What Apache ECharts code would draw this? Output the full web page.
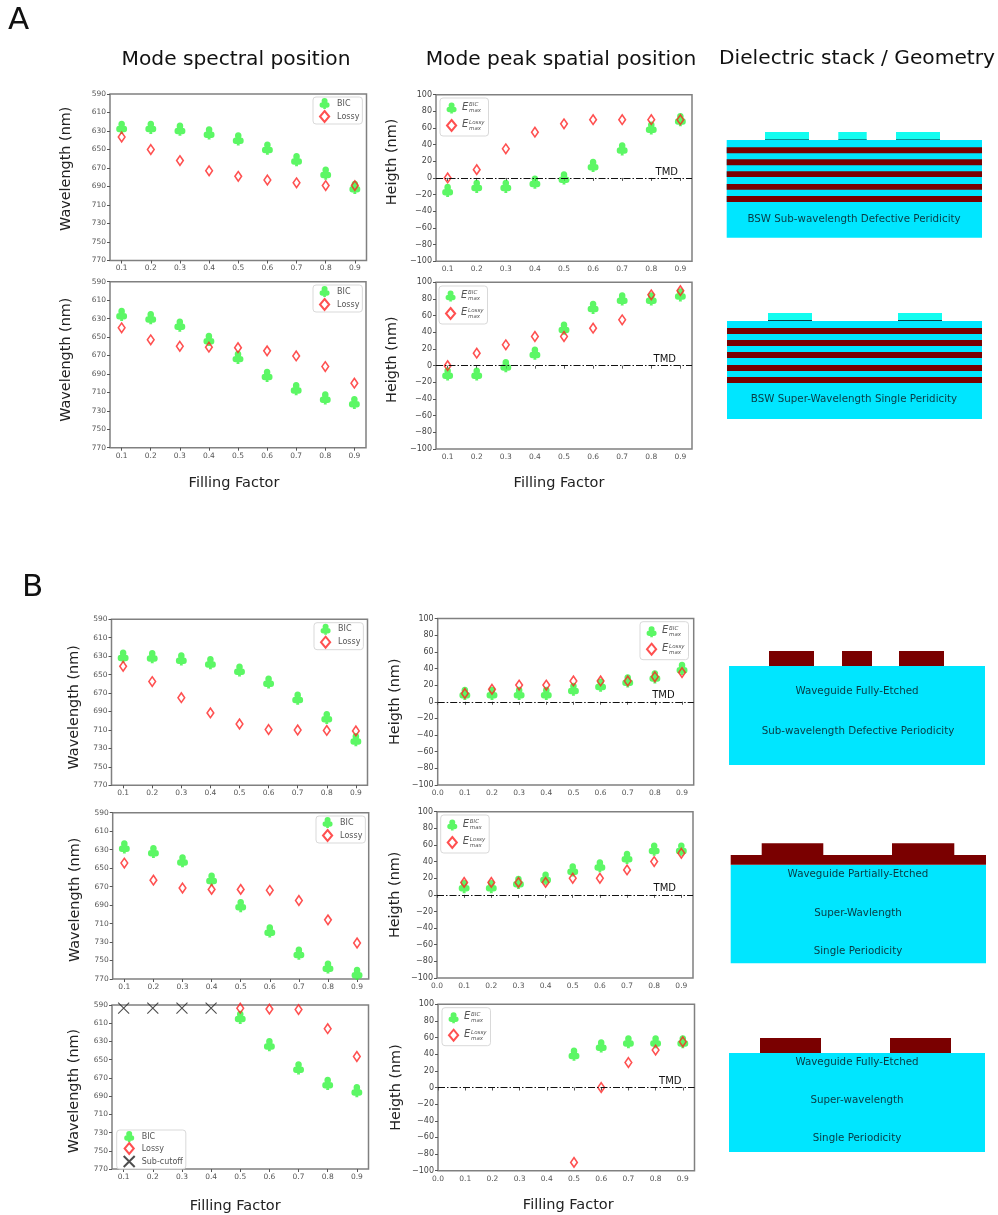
<!DOCTYPE html>
<html><head><meta charset="utf-8">
<style>html,body{margin:0;padding:0;background:#fff}#c{width:998px;height:1215px}</style>
<script src="https://cdn.jsdelivr.net/npm/echarts@6/dist/echarts.min.js"></script>
</head><body><div id="c"></div>
<script>
// ---------- data ----------
const fillingFactor = [0.1,0.2,0.3,0.4,0.5,0.6,0.7,0.8,0.9];
const wavelengthTicks = [590,610,630,650,670,690,710,730,750,770];
const xTicksShort = [0.1,0.2,0.3,0.4,0.5,0.6,0.7,0.8,0.9];
const xTicksLong = [0.0,0.1,0.2,0.3,0.4,0.5,0.6,0.7,0.8,0.9];

const a1WaveBIC = [626,626,628,632,638.5,648.5,661,675.5,691];
const a1WaveLossy = [636.5,650,662,673,679,683,686,689,689];
const a1HeightBIC = [-15,-10,-10,-5,0,15,35,60,70];
const a1HeightLossy = [0,10,35,55,65,70,70,70,70];

const a2WaveBIC = [625.5,629,637,652.5,672,691.5,706,716,721];
const a2WaveLossy = [640,653,660,661,661.5,665,670.5,682,700];
const a2HeightBIC = [-10,-10,0,15,45,70,80,80,85];
const a2HeightLossy = [0,15,25,35,35,45,55,85,90];

const b1WaveBIC = [630,630.5,633,637,645,658,675.5,696.5,720.5];
const b1WaveLossy = [641,657.5,675,691.5,703.5,709.5,710,710.5,711];
const b1HeightBIC = [10,10,10,10,15,20,25,30,40];
const b1HeightLossy = [10,15,20,20,25,25,25,30,35];

const b2WaveBIC = [627,632,642,662,690.5,718,742,757,764];
const b2WaveLossy = [644.5,663,671.5,673,673,674,685,706,731];
const b2HeightBIC = [10,10,15,20,30,35,45,55,55];
const b2HeightLossy = [15,15,15,15,20,20,30,40,50];

const b3WaveBIC = [null,null,null,null,603.5,633.5,659,676,684];
const b3WaveLossy = [null,null,null,null,593.5,594.5,595,616,646.5];
const b3WaveCutoff = [593.5,593.5,593.5,593.5,null,null,null,null,null];
const b3HeightBIC = [null,null,null,null,40,50,55,55,55];
const b3HeightLossy = [null,null,null,null,-90,0,30,45,55];

// ---------- styles ----------
const FONT = '"DejaVu Sans"';
const GREEN = '#33f53f', RED = '#ff2424';
const CLUB = 'path://M20 30a30 30 0 1 1 60 0a30 30 0 1 1 -60 0ZM0 70a27 27 0 1 1 54 0a27 27 0 1 1 -54 0ZM46 70a27 27 0 1 1 54 0a27 27 0 1 1 -54 0ZM36 36L64 36L64 72L58 72L64 110L36 110L42 72L36 72Z';
const DIAMOND = 'path://M5 0L10 6L5 12L0 6Z';
const CROSS = 'path://M0 0L10 10M10 0L0 10';

const rich = {
  e:{fontFamily:FONT,fontStyle:'italic',fontSize:10,lineHeight:6,verticalAlign:'top',color:'#555',width:7,align:'left'},
  s:{fontFamily:FONT,fontStyle:'italic',fontSize:5.5,lineHeight:6,verticalAlign:'middle',color:'#555'},
  g:{fontSize:5.5,lineHeight:6,width:7}
};
const legendText = {
  'BIC':'BIC','Lossy':'Lossy','Sub-cutoff':'Sub-cutoff',
  'E_max^BIC':'{e|E}{s|BIC}\n{g|}{s|max}',
  'E_max^Lossy':'{e|E}{s|Lossy}\n{g|}{s|max}'
};

const yL = 'Wavelength (nm)', yR = 'Heigth (nm)';
const panels = [
 {g:[110,94,256.5,166.5],name:yL,gap:36.5,yPad:[0,0,0,17],wave:true,bic:a1WaveBIC,loss:a1WaveLossy,leg:[313,97]},
 {g:[436,94.7,256,166.5],name:yR,gap:37,yPad:[0,0,0,32],bic:a1HeightBIC,loss:a1HeightLossy,leg:[440,98],tmd:[14,1]},
 {g:[110,281.7,256,166],name:yL,gap:36.5,yPad:[0,0,0,10],wave:true,bic:a2WaveBIC,loss:a2WaveLossy,leg:[313,285],xName:1,xGap:28,xPad:[0,8,0,0]},
 {g:[436,282.3,256,166.7],name:yR,gap:37,yPad:[0,0,0,12],bic:a2HeightBIC,loss:a2HeightLossy,leg:[439,286],tmd:[16,1],xName:1,xGap:27,xPad:[0,10,0,0]},
 {g:[111.5,619.3,256,166],name:yL,gap:30,yPad:[0,10,0,0],wave:true,bic:b1WaveBIC,loss:b1WaveLossy,leg:[314,622.7]},
 {g:[437.7,618.5,256,166.5],name:yR,gap:35,long:true,bic:b1HeightBIC,loss:b1HeightLossy,leg:[640,621.7],tmd:[19,1]},
 {g:[112.7,812.7,256,166.3],name:yL,gap:30,yPad:[0,8,0,0],wave:true,bic:b2WaveBIC,loss:b2WaveLossy,leg:[316,816]},
 {g:[437,811.7,256,166.3],name:yR,gap:35,long:true,bic:b2HeightBIC,loss:b2HeightLossy,leg:[440.7,815],tmd:[17,1]},
 {g:[112,1005,256.5,165.5],name:yL,gap:31,yPad:[0,8,0,0],wave:true,bic:b3WaveBIC,loss:b3WaveLossy,cut:b3WaveCutoff,leg:[116.7,1130],xName:1,xGap:30,xPad:[0,10,0,0]},
 {g:[438,1004.3,256.5,166.4],name:yR,gap:35,long:true,bic:b3HeightBIC,loss:b3HeightLossy,leg:[442,1007.7],tmd:[13,1],xName:1,xGap:27,xPad:[0,0,0,4]}
];

const pairs = arr => fillingFactor.map((x,i)=>[x,arr[i]]).filter(p=>p[1]!==null);
const fmtY = v => String(v).replace('-','\u2212');

const grid=[],xAxis=[],yAxis=[],series=[],legend=[];
panels.forEach((p,i)=>{
  grid.push({left:p.g[0],top:p.g[1],width:p.g[2],height:p.g[3],show:true,borderColor:'#808080',borderWidth:1.5,backgroundColor:'#fff'});
  const xt = p.long ? xTicksLong : xTicksShort;
  xAxis.push({type:'value',gridIndex:i,min:p.long?0:0.06,max:p.long?0.943:0.94,
    axisLine:{show:false},splitLine:{show:false},
    axisTick:{show:true,length:3,lineStyle:{color:'#555',width:1},customValues:xt},
    axisLabel:{color:'#555',fontFamily:FONT,fontSize:7.5,margin:4,customValues:xt,formatter:v=>Number(v).toFixed(1),hideOverlap:false,showMinLabel:true,showMaxLabel:true},
    name:p.xName?'Filling Factor':'',nameLocation:'middle',nameGap:p.xGap||0,
    nameTextStyle:{color:'#222',fontFamily:FONT,fontSize:14.5,padding:p.xPad||0}});
  yAxis.push(Object.assign({type:'value',gridIndex:i,splitLine:{show:false},axisLine:{show:false},
    name:p.name,nameLocation:'middle',nameGap:p.gap,nameRotate:90,
    nameTextStyle:{color:'#222',fontFamily:FONT,fontSize:14.4,padding:p.yPad||0}},
    p.wave ? {min:590,max:770,inverse:true,
      axisTick:{show:true,length:3,lineStyle:{color:'#555',width:1},customValues:wavelengthTicks},
      axisLabel:{color:'#555',fontFamily:FONT,fontSize:7.5,margin:4,customValues:wavelengthTicks}}
    : {min:-100,max:100,interval:20,
      axisTick:{show:true,length:3,lineStyle:{color:'#555',width:1}},
      axisLabel:{color:'#444',fontFamily:FONT,fontSize:8,margin:4,formatter:fmtY}}));
  const bicName = p.wave?'BIC':'E_max^BIC', lossName = p.wave?'Lossy':'E_max^Lossy';
  const s = {
    type:'scatter',xAxisIndex:i,yAxisIndex:i,clip:false,symbolKeepAspect:true,silent:true
  };
  const zero = p.tmd ? {markLine:{silent:true,symbol:'none',animation:false,precision:0,
      lineStyle:{color:'#111',type:[7,2,1.5,2],width:1},
      label:{show:true,formatter:'TMD',position:'insideEndTop',distance:[p.tmd[0],p.tmd[1]],color:'#111',fontFamily:FONT,fontSize:10},
      data:[{yAxis:0}]}} : {};
  series.push(Object.assign({},s,zero,{name:bicName,data:pairs(p.bic),symbol:CLUB,symbolSize:[12,13.2],itemStyle:{color:GREEN},z:2}));
  series.push(Object.assign({},s,{name:lossName,data:pairs(p.loss),symbol:DIAMOND,symbolSize:[8,9.6],itemStyle:{color:'rgba(0,0,0,0)',borderColor:RED,borderWidth:1.6},z:3}));
  if(p.cut) series.push(Object.assign({},s,{name:'Sub-cutoff',data:pairs(p.cut),symbol:CROSS,symbolSize:[11,11],itemStyle:{color:'rgba(0,0,0,0)',borderColor:'#222',borderWidth:1.1},z:3}));
  const names = p.cut?['BIC','Lossy','Sub-cutoff']:[bicName,lossName];
  legend.push({left:p.leg[0],top:p.leg[1],orient:'vertical',selectedMode:false,data:names,
    itemWidth:11,itemHeight:11,itemGap:p.cut?0:(p.wave?1:5),padding:p.wave?[1,3,1,6]:[4,4,4,6],
    backgroundColor:'rgba(255,255,255,0.85)',borderColor:'#d9d9d9',borderWidth:1,borderRadius:3,
    textStyle:p.wave?{color:'#555',fontFamily:FONT,fontSize:8,lineHeight:10,padding:[0,0,0,2]}:{color:'#555',fontFamily:FONT,fontSize:8,rich},
    formatter:n=>legendText[n]});
});

// ---------- annotation & schematic graphics ----------
const els=[];
const txt=(t,x,y,size,fill,align)=>els.push({type:'text',x,y,silent:true,style:{text:t,fill:fill||'#111',font:size+'px '+FONT,textAlign:align||'center',textVerticalAlign:'middle'}});
const rect=(x0,y0,x1,y1,fill)=>els.push({type:'rect',silent:true,shape:{x:x0,y:y0,width:x1-x0,height:y1-y0},style:{fill}});
const CY='#00e6ff',TOP='#12fdf0',DK='#7a0000',LBL='#083a44';

txt('A',8,21,31,'#111','left');
txt('B',22,588,31,'#111','left');
txt('Mode spectral position',236,60,20.2);
txt('Mode peak spatial position',561,60,20.2);
txt('Dielectric stack / Geometry',857,59,20.2);

// stack 1
rect(726.7,140,982,237.7,CY);
[[147.3,153.3],[159.3,165.3],[171.3,177],[184,189.7],[196,202]].forEach(r=>rect(726.7,r[0],982,r[1],DK));
[[765,809],[838.3,866.7],[896,940]].forEach(r=>{rect(r[0],132,r[1],139.5,TOP);rect(r[0],139,r[1],140,'#0a8f96');});
txt('BSW Sub-wavelength Defective Peridicity',854,219.5,10.3,LBL);
// stack 2
rect(727,321,982,419,CY);
[[328,334],[340,346],[352,358],[365,371],[377,383]].forEach(r=>rect(727,r[0],982,r[1],DK));
[[768,812],[898,942]].forEach(r=>{rect(r[0],313,r[1],320,TOP);rect(r[0],320,r[1],321,'#0a3f46');});
txt('BSW Super-Wavelength Single Peridicity',854,399.5,10.3,LBL);
// waveguide 1
rect(729,666,985,765,CY);
[[769,814],[842,872],[899,944]].forEach(r=>rect(r[0],651,r[1],666,DK));
txt('Waveguide Fully-Etched',857,691,10.3,LBL);
txt('Sub-wavelength Defective Periodicity',858,731,10.3,LBL);
// waveguide 2
rect(730.7,864.7,986,963.3,CY);
rect(730.7,855,986,864.7,DK);
[[761.7,823.3],[892,954.3]].forEach(r=>rect(r[0],843.3,r[1],855,DK));
txt('Waveguide Partially-Etched',858,874.5,10.3,LBL);
txt('Super-Wavlength',858,913,10.3,LBL);
txt('Single Periodicity',858,951,10.3,LBL);
// waveguide 3
rect(729,1053,985,1152,CY);
[[760,821],[890,951]].forEach(r=>rect(r[0],1038,r[1],1053,DK));
txt('Waveguide Fully-Etched',857,1062,10.3,LBL);
txt('Super-wavelength',857,1100,10.3,LBL);
txt('Single Periodicity',857,1138,10.3,LBL);

const chart = echarts.init(document.getElementById('c'),null,{renderer:'canvas'});
chart.setOption({animation:false,backgroundColor:'#fff',grid,xAxis,yAxis,series,legend,graphic:{elements:els}});
</script></body></html>
